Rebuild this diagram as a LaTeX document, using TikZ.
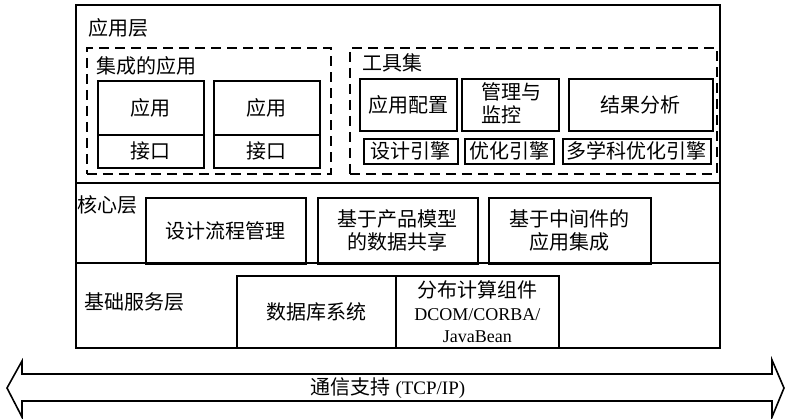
\documentclass[tikz,border=0pt]{standalone}
\usepackage{fontspec}
\setmainfont{Liberation Serif}
\newfontfamily\cjk{Noto Sans CJK SC}
\begin{document}
\begin{tikzpicture}[x=1pt,y=-1pt,
  box/.style={draw, line width=1.6pt, inner sep=0pt, align=center,
    font=\cjk\fontsize{20}{23}\selectfont, anchor=north west},
  dbox/.style={draw, line width=1.6pt, dash pattern=on 10pt off 6pt,
    inner sep=0pt, anchor=north west},
  lbl/.style={inner sep=0pt, anchor=west, font=\cjk\fontsize{20}{23}\selectfont},
  layerline/.style={line width=1.6pt}]
\useasboundingbox (0,0) rectangle (786,419);

% outer frame
\node[box, line width=1.8pt, minimum width=644pt, minimum height=343pt] (outer) at (75,4) {};
\coordinate (d1l) at (75,183); \coordinate (d1r) at (719,183);
\coordinate (d2l) at (75,263); \coordinate (d2r) at (719,263);
\draw[layerline] (d1l) -- (d1r);
\draw[layerline] (d2l) -- (d2r);

% application layer
\node[lbl] (appl) at (88,28) {应用层};
\node[dbox, minimum width=244pt, minimum height=126pt] (leftd) at (86,47) {};
\node[lbl] (intl) at (96,66) {集成的应用};
\node[box, minimum width=106pt, minimum height=54pt] (a1) at (97,80) {应用};
\node[box, minimum width=106pt, minimum height=33pt] (i1) at (97,134) {接口};
\node[box, minimum width=106pt, minimum height=54pt] (a2) at (213,80) {应用};
\node[box, minimum width=106pt, minimum height=33pt] (i2) at (213,134) {接口};

\node[dbox, minimum width=367pt, minimum height=126pt] (rightd) at (349,47) {};
\node[lbl] (tool) at (362,63) {工具集};
\node[box, minimum width=97pt, minimum height=52pt] (t1) at (359,78) {应用配置};
\node[box, minimum width=97pt, minimum height=52pt] (t2) at (461,78) {};
\node[inner sep=0pt, align=left, font=\cjk\fontsize{20}{23}\selectfont] (t2t) at (511,103) {管理与\\监控};
\node[box, minimum width=144pt, minimum height=52pt] (t3) at (568,78) {结果分析};
\node[box, minimum width=94pt, minimum height=25pt] (e1) at (363,138) {设计引擎};
\node[box, minimum width=89pt, minimum height=25pt] (e2) at (464,138) {优化引擎};
\node[box, minimum width=148pt, minimum height=25pt] (e3) at (562,138) {多学科优化引擎};

% core layer
\node[lbl] (corel) at (77,205) {核心层};
\node[box, minimum width=160pt, minimum height=66pt] (c1) at (145,197) {设计流程管理};
\node[box, minimum width=160pt, minimum height=66pt] (c2) at (317,197) {基于产品模型\\的数据共享};
\node[box, minimum width=162pt, minimum height=66pt] (c3) at (488,197) {基于中间件的\\应用集成};

% base layer
\node[lbl] (basel) at (84,302) {基础服务层};
\node[box, minimum width=159pt, minimum height=72pt] (b1) at (236,275) {数据库系统};
\node[box, minimum width=163pt, minimum height=72pt,
  font=\fontsize{18}{22.5}\selectfont] (b2) at (395,275)
  {{\cjk\fontsize{20}{22.5}\selectfont 分布计算组件}\\DCOM/CORBA/\\JavaBean};

% communication arrow
\draw[line width=1.6pt, line join=miter]
  (7,388) -- (22,361) -- (22,374) -- (772,374) -- (772,360) -- (784,388)
  -- (772,417) -- (772,401) -- (22,401) -- (22,417) -- cycle;
\node[inner sep=0pt, font=\fontsize{19}{23}\selectfont] (comm) at (388,388)
  {{\cjk\fontsize{20}{23}\selectfont 通信支持} (TCP/IP)};
\end{tikzpicture}
\end{document}
